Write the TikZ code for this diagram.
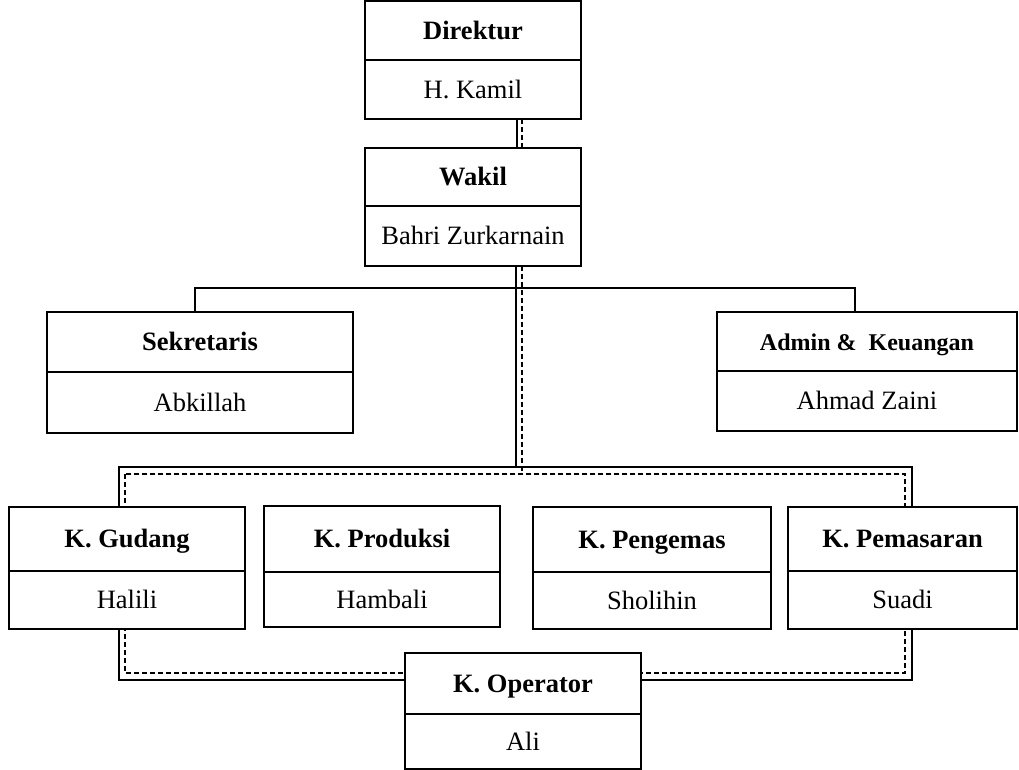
\documentclass[tikz,border=0pt]{standalone}
\usepackage{fontspec}
\setmainfont{Liberation Serif}
\usetikzlibrary{calc}
\tikzset{
  part/.style={draw=black, fill=white, line width=1.8pt, inner sep=0pt, outer sep=0pt, text height=17.5pt, text depth=0pt, font=\fontsize{26.5}{30}\selectfont},
  solidc/.style={draw=black, line width=1.6pt},
  dashc/.style={draw=black, line width=1.5pt, dash pattern=on 5pt off 3pt},
}
\newcommand\orgbox[8]{%
  \node[part, minimum width={(#3-#2)*1pt}, minimum height={(#5-#4)*1pt}] (#1T) at ({(#2+#3)/2},{(#4+#5)/2}) {#7};
  \node[part, minimum width={(#3-#2)*1pt}, minimum height={(#6-#5)*1pt}] (#1B) at ({(#2+#3)/2},{(#5+#6)/2}) {#8};
}
\begin{document}
\begin{tikzpicture}[x=1pt,y=-1pt]
\useasboundingbox (0,0) rectangle (1019,770);
% frame coordinates
\coordinate (fsTL) at (119,467);
\coordinate (fsBR) at (912,680);
\coordinate (fdTL) at (125,474);
\coordinate (fdBR) at (905,673);
\coordinate (hl) at (195,288);
\coordinate (hr) at (855,288);
% frames (behind boxes)
\draw[solidc] (fsTL) rectangle (fsBR);
\draw[dashc] (fdTL) rectangle (fdBR);
% boxes
\orgbox{dir}{365}{581}{1}{60}{119}{\textbf{Direktur}}{H. Kamil}
\orgbox{wak}{365}{581}{148}{206}{266}{\textbf{Wakil}}{Bahri Zurkarnain}
\orgbox{sek}{47}{353}{312}{372}{433}{\textbf{Sekretaris}}{Abkillah}
\orgbox{adm}{717}{1017}{312}{371}{431}{\fontsize{24}{28}\selectfont\textbf{Admin \&\ \ Keuangan}}{Ahmad Zaini}
\orgbox{gud}{9}{245}{507}{571}{629}{\textbf{K. Gudang}}{Halili}
\orgbox{pro}{264}{500}{506}{572}{627}{\textbf{K. Produksi}}{Hambali}
\orgbox{pen}{533}{771}{507}{572}{629}{\textbf{K. Pengemas}}{Sholihin}
\orgbox{pem}{788}{1017}{507}{571}{629}{\textbf{K. Pemasaran}}{Suadi}
\orgbox{ope}{405}{641}{653}{714}{769}{\textbf{K. Operator}}{Ali}
% Direktur - Wakil
\draw[solidc] ($(dirB.south)+(44,0)$) -- ($(wakT.north)+(44,0)$);
\draw[dashc] ($(dirB.south)+(49,0)$) -- ($(wakT.north)+(49,0)$);
% Wakil - frame
\coordinate (fsC) at (516,467);
\coordinate (fdC) at (522,474);
\draw[solidc] ($(wakB.south)+(43,0)$) -- (fsC);
\draw[dashc] ($(wakB.south)+(49,0)$) -- (fdC);
% Sekretaris / Admin
\draw[solidc] (sekT.north -| hl) -- (hl) -- (hr) -- (admT.north -| hr);
\end{tikzpicture}
\end{document}
